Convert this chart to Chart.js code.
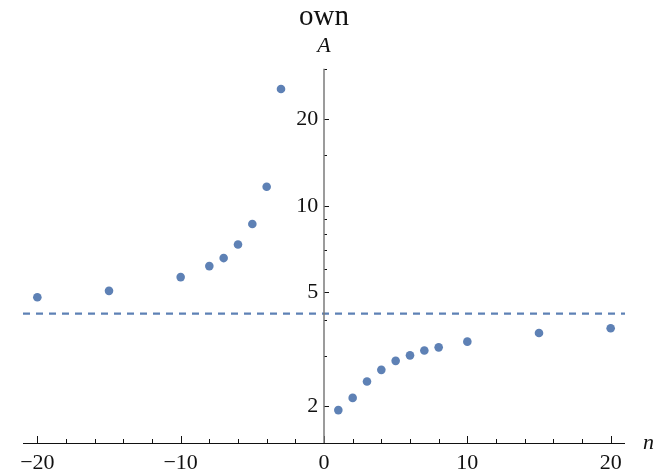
<!DOCTYPE html>
<html>
<head>
<meta charset="utf-8">
<script src="https://cdn.jsdelivr.net/npm/chart.js@4"></script>
<style>
  html, body { margin: 0; padding: 0; background: #fff; }
  #wrap { width: 672px; height: 474px; }
</style>
</head>
<body>
<div id="wrap"><canvas id="c"></canvas></div>
<script>
// data
const nValues = [-20, -15, -10, -8, -7, -6, -5, -4, -3, 1, 2, 3, 4, 5, 6, 7, 8, 10, 15, 20];
const aValues = [4.80, 5.05, 5.64, 6.16, 6.57, 7.33, 8.64, 11.65, 25.5, 1.94, 2.14, 2.44, 2.68, 2.88, 3.01, 3.13, 3.21, 3.36, 3.60, 3.74];
const limitValue = 4.21;
const xRange = [-21, 21];
const yRange = [1.49, 30];
const xMajorTicks = [-20, -10, 0, 10, 20];
const xMinorTicks = [-18, -16, -14, -12, -8, -6, -4, -2, 2, 4, 6, 8, 12, 14, 16, 18];
const yMajorTicks = [2, 5, 10, 20];
const yMinorTicks = [3, 4, 6, 7, 8, 9, 15, 30];

const blue = "#5E81B5";
const serif = "'Liberation Serif', 'DejaVu Serif', serif";

const points = nValues.map((n, i) => ({ x: n, y: aValues[i] }));

// Mathematica-like axes: crossing lines with inward ticks
const axesPlugin = {
  id: "axes",
  afterDatasetsDraw(chart) {
    const { ctx, chartArea, scales } = chart;
    const xs = scales.x, ys = scales.y;
    const x0 = xs.getPixelForValue(0);
    const yb = chartArea.bottom;
    ctx.save();
    // x axis
    ctx.strokeStyle = "#111";
    ctx.lineWidth = 1;
    ctx.beginPath();
    ctx.moveTo(chartArea.left, yb + 0.5);
    ctx.lineTo(chartArea.right, yb + 0.5);
    ctx.stroke();
    xMajorTicks.forEach(v => {
      const px = Math.round(xs.getPixelForValue(v)) + 0.5;
      ctx.beginPath(); ctx.moveTo(px, yb); ctx.lineTo(px, yb - 7); ctx.stroke();
    });
    xMinorTicks.forEach(v => {
      const px = Math.round(xs.getPixelForValue(v)) + 0.5;
      ctx.beginPath(); ctx.moveTo(px, yb); ctx.lineTo(px, yb - 4); ctx.stroke();
    });
    // y axis
    yMajorTicks.forEach(v => {
      const py = Math.round(ys.getPixelForValue(v)) + 0.5;
      ctx.beginPath(); ctx.moveTo(x0, py); ctx.lineTo(x0 + 5, py); ctx.stroke();
    });
    yMinorTicks.forEach(v => {
      const py = Math.round(ys.getPixelForValue(v)) + 0.5;
      ctx.beginPath(); ctx.moveTo(x0, py); ctx.lineTo(x0 + 3, py); ctx.stroke();
    });
    ctx.strokeStyle = "#7a7a7a";
    ctx.lineWidth = 1.5;
    ctx.beginPath();
    ctx.moveTo(x0, chartArea.top);
    ctx.lineTo(x0, yb);
    ctx.stroke();
    // axis labels
    ctx.fillStyle = "#111";
    ctx.font = "italic 22px " + serif;
    ctx.textAlign = "center";
    ctx.textBaseline = "middle";
    ctx.fillText("A", x0, 46);
    ctx.textAlign = "left";
    ctx.fillText("n", chartArea.right + 18, yb);
    ctx.restore();
  }
};

new Chart(document.getElementById("c"), {
  type: "scatter",
  data: {
    datasets: [
      {
        data: points,
        backgroundColor: blue,
        borderWidth: 0,
        pointRadius: 4.3,
        pointHoverRadius: 4.3,
      },
      {
        type: "line",
        data: [{ x: xRange[0], y: limitValue }, { x: xRange[1], y: limitValue }],
        borderColor: blue,
        borderWidth: 2.2,
        borderDash: [7, 6],
        pointRadius: 0,
        fill: false,
      },
    ],
  },
  options: {
    responsive: true,
    maintainAspectRatio: false,
    animation: false,
    events: [],
    layout: { padding: { left: 23, right: 47, top: 0, bottom: 0 } },
    plugins: {
      legend: { display: false },
      tooltip: { enabled: false },
      title: {
        display: true,
        text: "own",
        color: "#111",
        font: { family: serif, size: 29, weight: "normal", lineHeight: 1.2 },
        padding: { top: 0, bottom: 34 },
      },
    },
    scales: {
      x: {
        type: "linear",
        position: "bottom",
        min: xRange[0],
        max: xRange[1],
        afterBuildTicks: s => { s.ticks = xMajorTicks.map(v => ({ value: v })); },
        afterFit: s => { s.height = 31; },
        grid: { display: false, drawTicks: false },
        border: { display: false },
        ticks: {
          padding: 7,
          color: "#111",
          font: { family: serif, size: 22 },
          callback: v => (v < 0 ? "\u2212" + Math.abs(v) : String(v)),
        },
      },
      y: {
        type: "logarithmic",
        // labels anchored a few pixels left of the n = 0 axis line
        position: { x: -0.4 },
        min: yRange[0],
        max: yRange[1],
        afterBuildTicks: s => { s.ticks = yMajorTicks.map(v => ({ value: v })); },
        grid: { display: false, drawTicks: false },
        border: { display: false },
        ticks: {
          padding: 5,
          color: "#111",
          font: { family: serif, size: 22 },
          callback: v => String(v),
        },
      },
    },
  },
  plugins: [axesPlugin],
});
</script>
</body>
</html>
